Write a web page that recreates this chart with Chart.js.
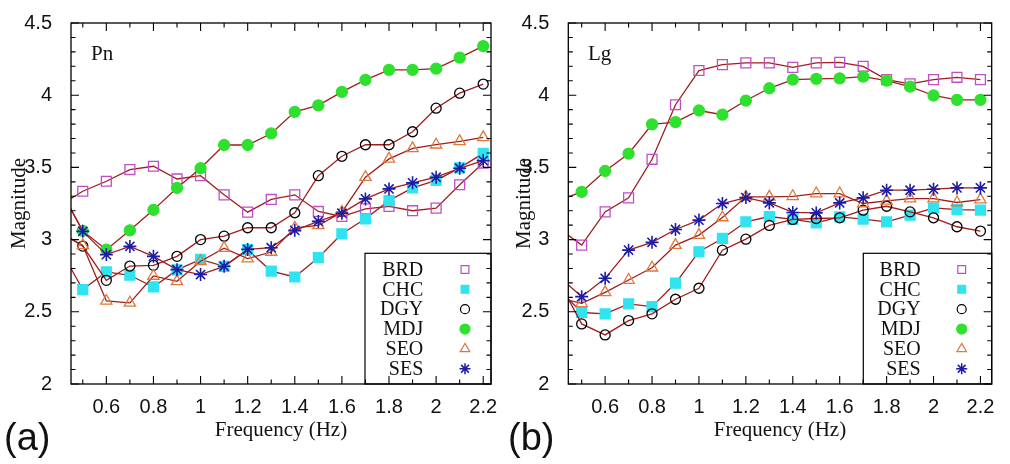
<!DOCTYPE html>
<html><head><meta charset="utf-8">
<script src="https://cdn.jsdelivr.net/npm/chart.js@4.4.1/dist/chart.umd.min.js"></script>
<style>
html,body{margin:0;padding:0;background:#fff;}
#wrap{position:relative;width:1010px;height:464px;overflow:hidden;background:#fff;}
.panel{position:absolute;top:0;width:505px;height:464px;}
canvas{display:block;}
</style></head><body>
<div id="wrap">
<div class="panel" style="left:0"><canvas id="ca" width="505" height="464"></canvas></div>
<div class="panel" style="left:505px"><canvas id="cb" width="505" height="464"></canvas></div>
</div>
<script>
// ---------- data ----------
const frequencies = [0.4,0.5,0.6,0.7,0.8,0.9,1.0,1.1,1.2,1.3,1.4,1.5,1.6,1.7,1.8,1.9,2.0,2.1,2.2];
const stations = ['BRD','CHC','DGY','MDJ','SEO','SES'];

// (a) Pn
const pnBRD = [3.235,3.335,3.404,3.485,3.508,3.420,3.443,3.310,3.190,3.278,3.310,3.195,3.160,3.213,3.230,3.200,3.218,3.380,3.530];
const pnCHC = [2.946,2.654,2.776,2.753,2.672,2.790,2.863,2.815,2.930,2.782,2.741,2.875,3.040,3.144,3.270,3.358,3.410,3.497,3.597];
const pnDGY = [3.057,2.955,2.718,2.817,2.822,2.884,3.000,3.024,3.082,3.082,3.186,3.443,3.577,3.657,3.657,3.747,3.910,4.014,4.077];
const pnMDJ = [3.360,3.060,2.930,3.064,3.206,3.358,3.494,3.655,3.655,3.735,3.885,3.930,4.023,4.106,4.175,4.175,4.184,4.260,4.340];
const pnSEO = [3.050,2.960,2.575,2.562,2.748,2.711,2.850,2.941,2.868,2.914,3.082,3.098,3.190,3.432,3.559,3.632,3.657,3.680,3.708];
const pnSES = [3.360,3.057,2.896,2.953,2.884,2.792,2.758,2.815,2.932,2.944,3.064,3.126,3.183,3.282,3.351,3.393,3.432,3.494,3.547];

// (b) Lg
const lgBRD = [3.080,2.962,3.192,3.289,3.556,3.934,4.171,4.212,4.224,4.224,4.193,4.224,4.228,4.200,4.108,4.079,4.108,4.124,4.108];
const lgCHC = [2.660,2.495,2.485,2.555,2.536,2.698,2.916,3.008,3.123,3.160,3.140,3.116,3.157,3.142,3.123,3.169,3.219,3.208,3.204];
const lgDGY = [2.720,2.416,2.340,2.439,2.486,2.587,2.663,2.927,3.003,3.098,3.140,3.146,3.151,3.204,3.231,3.192,3.151,3.089,3.059];
const lgMDJ = [3.270,3.330,3.475,3.595,3.798,3.814,3.894,3.865,3.963,4.048,4.108,4.113,4.117,4.129,4.101,4.060,3.998,3.968,3.968];
const lgSEO = [2.596,2.559,2.635,2.720,2.805,2.962,3.031,3.153,3.296,3.296,3.300,3.319,3.319,3.250,3.268,3.284,3.284,3.257,3.277];
const lgSES = [2.747,2.605,2.732,2.927,2.981,3.070,3.135,3.250,3.291,3.254,3.188,3.185,3.254,3.289,3.342,3.342,3.349,3.358,3.358];

const xTickLabels = [0.6,0.8,1,1.2,1.4,1.6,1.8,2,2.2];
const yTickLabels = [2,2.5,3,3.5,4,4.5];

// ---------- styles ----------
const LINE_COLOR = '#a11d1d';
const markers = {
  BRD:{style:'rect',     color:'#c04ec4', fill:false, r:7,   lr:5.5},
  CHC:{style:'rect',     color:'#2fe4f0', fill:true,  r:7,   lr:5.5},
  DGY:{style:'circle',   color:'#000000', fill:false, r:5,   lr:4.5},
  MDJ:{style:'circle',   color:'#2fe02f', fill:true,  r:5.5, lr:5},
  SEO:{style:'triangle', color:'#e0783c', fill:false, r:6.5, lr:5.5},
  SES:{style:'star',     color:'#1c1ca8', fill:false, r:6.5, lr:5.5}
};
const SANS = '"Liberation Sans", Arial, sans-serif';
const SERIF = '"Liberation Serif", "Times New Roman", serif';

const decorPlugin = {
  id:'decor',
  afterDatasetsDraw(chart){
    const cfg = chart.options.plugins.decor;
    const {ctx, chartArea:ca, scales:{x,y}} = chart;
    ctx.save();
    // legend box
    const lw = ca.right - cfg.legendLeft, lh = ca.bottom - cfg.legendTop;
    ctx.fillStyle = '#fff';
    ctx.fillRect(cfg.legendLeft, cfg.legendTop, lw, lh);
    ctx.strokeStyle = '#000'; ctx.lineWidth = 1.2;
    ctx.strokeRect(cfg.legendLeft, cfg.legendTop, lw, lh);
    ctx.font = '20px ' + SERIF;
    ctx.textAlign = 'right'; ctx.textBaseline = 'middle';
    stations.forEach((s,i)=>{
      const yy = cfg.legendRow0 + i*19.85;
      ctx.fillStyle = '#111';
      ctx.fillText(s, cfg.legendTextRight, yy+1);
      const m = markers[s];
      ctx.strokeStyle = m.color;
      ctx.fillStyle = m.fill ? m.color : 'rgba(0,0,0,0)';
      ctx.lineWidth = m.style==='star' ? 1.5 : 1.2;
      Chart.helpers.drawPoint(ctx, {pointStyle:m.style, radius:m.lr, borderWidth:ctx.lineWidth, rotation:0}, cfg.legendMarkerX, yy);
    });
    // frame
    ctx.strokeStyle = '#000'; ctx.lineWidth = 1.3;
    ctx.strokeRect(ca.left, ca.top, ca.right-ca.left, ca.bottom-ca.top);
    ctx.lineWidth = 1.1;
    ctx.beginPath();
    for (let k=5;k<=22;k++){
      const px = x.getPixelForValue(k/10);
      const L = (k%2===0) ? 8 : 4.5;
      ctx.moveTo(px, ca.bottom); ctx.lineTo(px, ca.bottom-L);
      ctx.moveTo(px, ca.top); ctx.lineTo(px, ca.top+L);
    }
    for (let k=20;k<=45;k++){
      const py = y.getPixelForValue(k/10);
      const L = (k%5===0) ? 8 : 4.5;
      ctx.moveTo(ca.left, py); ctx.lineTo(ca.left+L, py);
      ctx.moveTo(ca.right, py); ctx.lineTo(ca.right-L, py);
    }
    ctx.stroke();
    // phase label
    ctx.fillStyle = '#111';
    ctx.textAlign = 'left'; ctx.textBaseline = 'alphabetic';
    ctx.font = '21px ' + SERIF;
    ctx.fillText(cfg.phase, cfg.phaseX, 60);
    // panel letter
    ctx.font = '38px ' + SANS;
    ctx.fillText(cfg.letter, cfg.letterX, 450);
    ctx.restore();
  }
};

function makePanel(id, series, p){
  const datasets = stations.map((s,i)=>{
    const m = markers[s];
    return {
      label:s,
      data: frequencies.map((f,j)=>({x:f, y:series[i][j]})),
      borderColor: LINE_COLOR, borderWidth: 1.3,
      backgroundColor: m.color,
      pointStyle: m.style, pointRadius: m.r, pointHoverRadius: m.r,
      pointBorderColor: m.color,
      pointBackgroundColor: m.fill ? m.color : 'rgba(0,0,0,0)',
      pointBorderWidth: m.style==='star' ? 1.6 : 1.3,
      tension: 0, fill:false,
      order: stations.length - i
    };
  });
  return new Chart(document.getElementById(id), {
    type:'line',
    data:{datasets},
    plugins:[decorPlugin],
    options:{
      responsive:false, animation:false, devicePixelRatio:1,
      layout:{padding:{left:0, right:p.pr, top:p.pt, bottom:0}},
      plugins:{
        legend:{display:false}, tooltip:{enabled:false},
        decor:p
      },
      scales:{
        x:{type:'linear', min:p.xmin, max:p.xmax,
          afterBuildTicks:s=>{ s.ticks = xTickLabels.map(v=>({value:v})); },
          afterFit:s=>{ s.height = 80; },
          grid:{display:false}, border:{display:false},
          ticks:{font:{family:SANS, size:20}, color:'#111', padding:3, maxRotation:0, autoSkip:false,
                 callback:v=>String(v)},
          title:{display:true, text:'Frequency (Hz)', font:{family:SERIF, size:21}, color:'#111', padding:{top:0, bottom:21}}
        },
        y:{type:'linear', min:2, max:4.5,
          afterBuildTicks:s=>{ s.ticks = yTickLabels.map(v=>({value:v})); },
          afterFit:s=>{ s.width = p.yw; },
          grid:{display:false}, border:{display:false},
          ticks:{font:{family:SANS, size:20}, color:'#111', padding:11, autoSkip:false,
                 callback:v=>String(v)},
          title:{display:true, text:'Magnitude', font:{family:SERIF, size:21}, color:'#111', padding:{top:7, bottom:0}}
        }
      }
    }
  });
}

makePanel('ca', [pnBRD,pnCHC,pnDGY,pnMDJ,pnSEO,pnSES], {
  xmin:0.45, xmax:2.233, yw:71, pr:14, pt:22,
  legendLeft:365, legendTop:253.3, legendRow0:269.5, legendTextRight:423.3, legendMarkerX:465,
  phase:'Pn', phaseX:91, letter:'(a)', letterX:4
});
makePanel('cb', [lgBRD,lgCHC,lgDGY,lgMDJ,lgSEO,lgSES], {
  xmin:0.443, xmax:2.248, yw:63.3, pr:18.3, pt:22.3,
  legendLeft:358.3, legendTop:253.3, legendRow0:269.5, legendTextRight:415.7, legendMarkerX:456.7,
  phase:'Lg', phaseX:83, letter:'(b)', letterX:3
});
</script>
</body></html>
